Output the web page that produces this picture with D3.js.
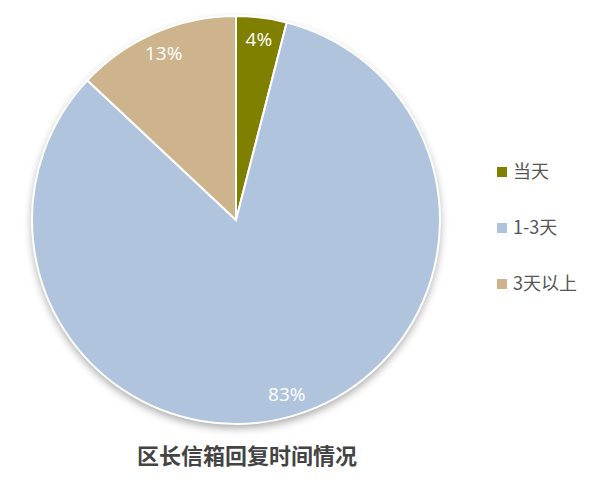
<!DOCTYPE html>
<html lang="zh">
<head>
<meta charset="UTF-8">
<script src="https://d3js.org/d3.v7.min.js"></script>
<style>
  body { margin: 0; background: #fff; }
  svg { font-family: "Noto Sans CJK SC", "Open Sans", sans-serif; }
</style>
</head>
<body>
<script>
  var categories = ["当天", "1-3天", "3天以上"];
  var values = [4, 83, 13];
  var colors = ["#808000", "#B0C4DE", "#CDB48C"];
  var title = "区长信箱回复时间情况";

  var width = 600, height = 480;
  var cx = 236, cy = 220, radius = 204;

  var svg = d3.select("body").append("svg")
    .attr("width", width)
    .attr("height", height);

  var defs = svg.append("defs");
  var filter = defs.append("filter")
    .attr("id", "shadow")
    .attr("x", "-20%").attr("y", "-20%")
    .attr("width", "140%").attr("height", "140%");
  filter.append("feDropShadow")
    .attr("dx", 0).attr("dy", 4)
    .attr("stdDeviation", 4)
    .attr("flood-color", "#000")
    .attr("flood-opacity", 0.35);

  var pie = d3.pie().sort(null).value(d => d);
  var arcs = pie(values);

  var arc = d3.arc().innerRadius(0).outerRadius(radius);
  var labelArc = d3.arc().innerRadius(182).outerRadius(182);

  var g = svg.append("g")
    .attr("transform", `translate(${cx},${cy})`);

  g.append("circle")
    .attr("r", radius)
    .attr("fill", "#fff")
    .attr("filter", "url(#shadow)");

  g.selectAll("path.slice")
    .data(arcs)
    .enter().append("path")
    .attr("class", "slice")
    .attr("d", arc)
    .attr("fill", (d, i) => colors[i])
    .attr("stroke", "#fff")
    .attr("stroke-width", 2);

  g.selectAll("text.pct")
    .data(arcs)
    .enter().append("text")
    .attr("class", "pct")
    .attr("transform", d => `translate(${labelArc.centroid(d)})`)
    .attr("text-anchor", "middle")
    .attr("dy", "0.35em")
    .attr("fill", "#fff")
    .style("font-family", "'Open Sans', sans-serif")
    .style("font-size", "19px")
    .text(d => d.value + "%");

  var legend = svg.append("g")
    .attr("transform", "translate(497,172)");

  var item = legend.selectAll("g")
    .data(categories)
    .enter().append("g")
    .attr("transform", (d, i) => `translate(0,${i * 56})`);

  item.append("rect")
    .attr("x", 0).attr("y", -5)
    .attr("width", 10).attr("height", 10)
    .attr("fill", (d, i) => colors[i]);

  item.append("text")
    .attr("x", 16)
    .attr("dy", "0.36em")
    .attr("fill", "#555")
    .style("font-size", "18px")
    .text(d => d);

  svg.append("text")
    .attr("x", 247)
    .attr("y", 464)
    .attr("text-anchor", "middle")
    .attr("fill", "#444")
    .style("font-size", "22px")
    .style("font-weight", "bold")
    .text(title);
</script>
</body>
</html>
